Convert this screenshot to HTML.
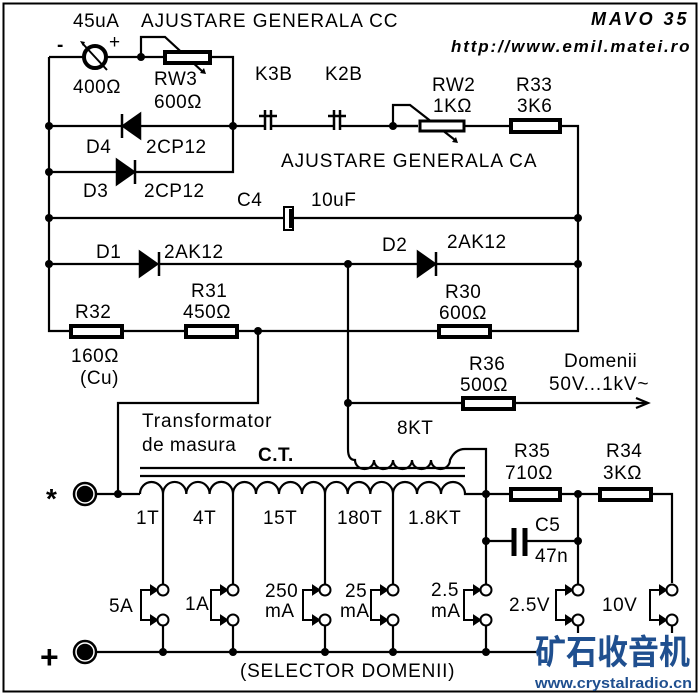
<!DOCTYPE html>
<html><head><meta charset="utf-8"><style>
html,body{margin:0;padding:0;background:#fff}
svg{display:block}
text{font-family:"Liberation Sans",Arial,sans-serif;font-size:19px;letter-spacing:0.5px;fill:#000}
</style></head><body>
<svg width="700" height="696" viewBox="0 0 700 696" xmlns="http://www.w3.org/2000/svg">
<rect x="3.5" y="3.5" width="693" height="688" fill="#fff" stroke="#000" stroke-width="2"/>
<g stroke="#000" stroke-width="2.2" fill="none">
<path d="M49 57V331H70M123 331H184M238 331H438M492 331H578V126H561M510 126H464M418 126H393"/>
<path d="M49 57H83M107 57H163M211 57H233V172H135M117 172H49"/>
<path d="M141 57V37H165L203 72"/>
<path d="M49 126H122M140 126H233H265M271 126H334M340 126H418"/>
<path d="M393 126V105H410L455 140"/>
<path d="M49 218H284M293 218H578"/>
<path d="M49 264H140M160 264H418M436 264H578"/>
<path d="M258 331V403H118V494M95 494H140"/>
<path d="M348 264V449"/>
<path d="M348 403H462M515 403H646"/>
<path d="M636 398L648 403L636 408"/>
<path d="M348 449Q348 460 355 460A9.5 9 0 0 0 374 460A9.5 9 0 0 0 393 460A9.5 9 0 0 0 412 460A9.5 9 0 0 0 431 460A9.5 9 0 0 0 450 460Q455 449 465 449H486V494"/>
<path d="M140 468H465M140 476H465"/>
<path d="M140 494A11.5 12 0 0 1 163 494A11.6 12 0 0 1 186.3 494A11.6 12 0 0 1 209.6 494A11.6 12 0 0 1 233 494A11.5 12 0 0 1 256 494A11.5 12 0 0 1 279 494A11.5 12 0 0 1 302 494A11.5 12 0 0 1 325 494A11.3 12 0 0 1 347.7 494A11.3 12 0 0 1 370.3 494A11.3 12 0 0 1 393 494A12 12 0 0 1 417 494A12 12 0 0 1 441 494A12 12 0 0 1 465 494H510M561 494H598M652 494H672V583"/>
<path d="M163 494V585M233 494V585M325 494V585M393 494V585M486 494V585M578 494V585"/>
<path d="M486 541H512M525 541H578"/>
<path d="M95 652H540"/>
<path d="M163 625V652M233 625V652M325 625V652M393 625V652M486 625V652M578 625V633M672 625V633"/>
</g>
<g stroke="#000" stroke-width="2" fill="#fff">
<g id="sw"><circle cx="163" cy="590" r="5.5"/><circle cx="163" cy="620" r="5.5"/><path d="M153 590H141V620H153" fill="none"/><path d="M151 586L157 590L151 594Z M151 616L157 620L151 624Z" fill="#000"/></g>
<use href="#sw" x="70"/><use href="#sw" x="162"/><use href="#sw" x="230"/><use href="#sw" x="323"/><use href="#sw" x="415"/><use href="#sw" x="509"/>
</g>
<g stroke="#000" stroke-width="4" fill="#fff">
<rect x="165" y="52" width="45" height="11"/>
<rect x="420" y="121" width="44" height="10" stroke-width="3"/>
<rect x="511" y="120" width="49" height="12"/>
<rect x="71" y="326" width="51" height="11"/>
<rect x="186" y="326" width="51" height="11"/>
<rect x="439" y="326" width="51" height="11"/>
<rect x="463" y="398" width="51" height="11"/>
<rect x="511" y="489" width="49" height="11"/>
<rect x="600" y="489" width="51" height="11"/>
</g>
<circle cx="95" cy="57" r="11" fill="#fff" stroke="#000" stroke-width="4"/>
<path d="M83 44L107 70" stroke="#000" stroke-width="2"/>
<path d="M80 41l5 1l-2 4z" fill="#000"/>
<path d="M206 74l-6-1 4-5z M458 143l-6-1 4-5z" fill="#000"/>
<g fill="#000" stroke="#000" stroke-width="2.5">
<path d="M140 114V138L123 126Z" /><path d="M122 114V138"/>
<path d="M117 160V184L134 172Z"/><path d="M135 160V184"/>
<path d="M140 252V276L157 264Z"/><path d="M159 252V276"/>
<path d="M418 252V276L435 264Z"/><path d="M436 252V276"/>
</g>
<g stroke="#000" stroke-width="2.5">
<path d="M265 110V130M271 110V130M259 116H277M334 110V130M340 110V130M328 116H346"/>
</g>
<rect x="284" y="207" width="9" height="23" fill="#fff" stroke="#000" stroke-width="2"/>
<rect x="289" y="209" width="4" height="19" fill="#000"/>
<path d="M514 528V556M525 528V556" stroke="#000" stroke-width="5"/>
<g fill="#000">
<circle cx="141" cy="57" r="4"/><circle cx="49" cy="126" r="4"/><circle cx="233" cy="126" r="4"/><circle cx="49" cy="172" r="4"/>
<circle cx="49" cy="218" r="4"/><circle cx="49" cy="264" r="4"/><circle cx="393" cy="126" r="4"/><circle cx="578" cy="218" r="4"/>
<circle cx="578" cy="264" r="4"/><circle cx="348" cy="264" r="4"/><circle cx="258" cy="331" r="4"/><circle cx="348" cy="403" r="4"/>
<circle cx="118" cy="494" r="4"/><circle cx="486" cy="494" r="4"/><circle cx="578" cy="494" r="4"/><circle cx="486" cy="541" r="4"/><circle cx="578" cy="541" r="4"/>
<circle cx="163" cy="652" r="4"/><circle cx="233" cy="652" r="4"/><circle cx="325" cy="652" r="4"/><circle cx="393" cy="652" r="4"/><circle cx="486" cy="652" r="4"/>
</g>
<g stroke="#000" stroke-width="2.5"><circle cx="85" cy="494" r="11" fill="#fff"/><circle cx="85" cy="494" r="7" fill="#000"/>
<circle cx="85" cy="652" r="11" fill="#fff"/><circle cx="85" cy="652" r="7" fill="#000"/></g>
<text x="73" y="27">45uA</text>
<text x="141" y="27" textLength="257">AJUSTARE GENERALA CC</text>
<text x="57" y="51" style="font-weight:bold">-</text><text x="109" y="48">+</text>
<text x="73" y="93">400Ω</text>
<text x="154" y="85">RW3</text><text x="154" y="108">600Ω</text>
<text x="86" y="153">D4</text><text x="146" y="153">2CP12</text>
<text x="83" y="197">D3</text><text x="144" y="197">2CP12</text>
<text x="255" y="80">K3B</text><text x="325" y="80">K2B</text>
<text x="432" y="91">RW2</text><text x="433" y="112">1KΩ</text>
<text x="516" y="91">R33</text><text x="517" y="112">3K6</text>
<text x="281" y="167" textLength="256">AJUSTARE GENERALA CA</text>
<text x="237" y="206">C4</text><text x="311" y="206">10uF</text>
<text x="96" y="258">D1</text><text x="164" y="258">2AK12</text>
<text x="382" y="251">D2</text><text x="447" y="248">2AK12</text>
<text x="75" y="318">R32</text><text x="191" y="297">R31</text><text x="183" y="318">450Ω</text>
<text x="71" y="362">160Ω</text><text x="80" y="384">(Cu)</text>
<text x="445" y="298">R30</text><text x="439" y="319">600Ω</text>
<text x="469" y="370">R36</text><text x="460" y="391">500Ω</text>
<text x="564" y="367">Domenii</text><text x="549" y="390" textLength="100">50V...1kV~</text>
<text x="142" y="427" textLength="130">Transformator</text><text x="142" y="451">de masura</text>
<text x="258" y="461" style="font-weight:bold">C.T.</text>
<text x="397" y="434">8KT</text>
<text x="514" y="457">R35</text><text x="505" y="479">710Ω</text>
<text x="606" y="457">R34</text><text x="603" y="479">3KΩ</text>
<text x="46" y="508" style="font-size:28px;font-weight:bold">*</text>
<text x="40" y="668" style="font-size:32px;font-weight:bold">+</text>
<text x="136" y="524">1T</text><text x="193" y="524">4T</text><text x="263" y="524">15T</text><text x="337" y="524">180T</text><text x="408" y="524">1.8KT</text>
<text x="535" y="531">C5</text><text x="535" y="562">47n</text>
<text x="109" y="612">5A</text><text x="185" y="610">1A</text>
<text x="265" y="597">250</text><text x="265" y="617">mA</text>
<text x="345" y="597">25</text><text x="340" y="617">mA</text>
<text x="431" y="596">2.5</text><text x="431" y="617">mA</text>
<text x="509" y="611">2.5V</text><text x="602" y="611">10V</text>
<text x="240" y="677" textLength="215">(SELECTOR DOMENII)</text>
<text x="591" y="25" textLength="96" style="font-weight:bold;font-style:italic;font-size:18px">MAVO 35</text>
<text x="451" y="52" textLength="239" style="font-weight:bold;font-style:italic;font-size:17px">http://www.emil.matei.ro</text>
<text x="535" y="664" textLength="155" lengthAdjust="spacingAndGlyphs" style="font-family:'Liberation Sans','Noto Sans CJK SC',sans-serif;font-size:34px;font-weight:bold;fill:#1f4f8f;letter-spacing:0">矿石收音机</text>
<text x="535" y="688" textLength="157" lengthAdjust="spacingAndGlyphs" style="font-size:15px;font-weight:bold;fill:#1f4f8f;letter-spacing:0">www.crystalradio.cn</text>
</svg>
</body></html>
